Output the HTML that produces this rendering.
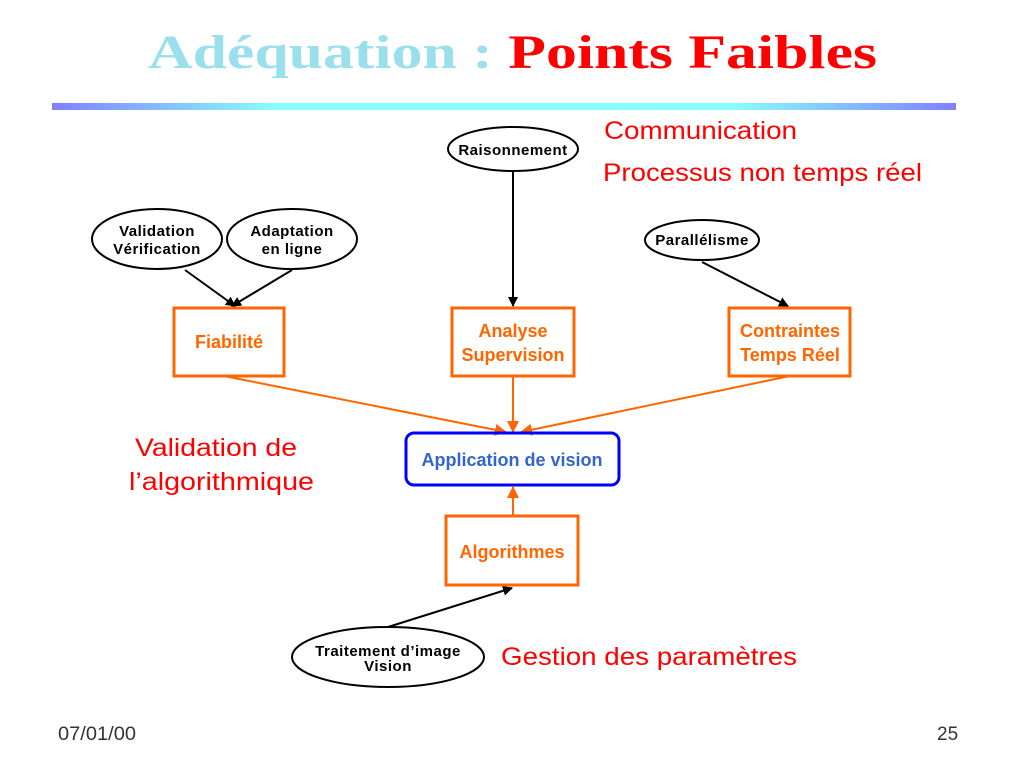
<!DOCTYPE html>
<html><head><meta charset="utf-8"><style>
body{margin:0;width:1024px;height:768px;background:#fff;overflow:hidden;position:relative;font-family:"Liberation Sans",sans-serif}
svg{position:absolute;left:0;top:0}
</style></head><body>
<svg width="1024" height="768" viewBox="0 0 1024 768">
<defs>
<linearGradient id="g" x1="0" x2="1">
<stop offset="0" stop-color="#8080ff"/><stop offset="0.25" stop-color="#88ffff"/><stop offset="0.75" stop-color="#88ffff"/><stop offset="1" stop-color="#8080ff"/>
</linearGradient>
<marker id="ab" markerWidth="10" markerHeight="10" refX="9" refY="5" orient="auto" markerUnits="userSpaceOnUse"><path d="M0,0 L10,5 L0,10 z" fill="#000"/></marker>
<marker id="ao" markerWidth="12" markerHeight="12" refX="11" refY="6" orient="auto" markerUnits="userSpaceOnUse"><path d="M0,0 L12,6 L0,12 z" fill="#ff6600"/></marker>
</defs>
<text x="148" y="68" font-family="Liberation Serif,serif" font-weight="bold" font-size="48" textLength="729" lengthAdjust="spacingAndGlyphs"><tspan fill="#99e0ec">Adéquation : </tspan><tspan fill="#ff0000">Points Faibles</tspan></text>
<rect x="52" y="103" width="904" height="7" fill="url(#g)"/>
<g fill="none" stroke="#000" stroke-width="2">
<ellipse cx="513" cy="149" rx="65" ry="22" fill="#fff"/>
<ellipse cx="157" cy="239" rx="65" ry="30" fill="#fff"/>
<ellipse cx="292" cy="239" rx="65" ry="30" fill="#fff"/>
<ellipse cx="702" cy="240" rx="57" ry="20" fill="#fff"/>
<ellipse cx="388" cy="657" rx="96" ry="30" fill="#fff"/>
<line x1="185" y1="270" x2="235" y2="306" marker-end="url(#ab)"/>
<line x1="292" y1="270" x2="232" y2="306" marker-end="url(#ab)"/>
<line x1="513" y1="172" x2="513" y2="306" marker-end="url(#ab)"/>
<line x1="702" y1="262" x2="788" y2="306" marker-end="url(#ab)"/>
<line x1="388" y1="627" x2="512" y2="588" marker-end="url(#ab)"/>
</g>
<g fill="none" stroke="#ff6600" stroke-width="3">
<rect x="174" y="308" width="110" height="68"/>
<rect x="452" y="308" width="122" height="68"/>
<rect x="729" y="308" width="121" height="68"/>
<rect x="446" y="516" width="132" height="69"/>
</g>
<g fill="none" stroke="#ff6600" stroke-width="2">
<line x1="224" y1="376" x2="506" y2="432" marker-end="url(#ao)"/>
<line x1="513" y1="376" x2="513" y2="432" marker-end="url(#ao)"/>
<line x1="790" y1="376" x2="521" y2="432" marker-end="url(#ao)"/>
<line x1="513" y1="516" x2="513" y2="487" marker-end="url(#ao)"/>
</g>
<rect x="406" y="433" width="213" height="52" rx="8" fill="none" stroke="#0000ff" stroke-width="3"/>
<g font-weight="bold" font-size="15" text-anchor="middle" fill="#000" letter-spacing="0.5">
<text x="513" y="155">Raisonnement</text>
<text x="157" y="236">Validation</text><text x="157" y="254">Vérification</text>
<text x="292" y="236">Adaptation</text><text x="292" y="254">en ligne</text>
<text x="702" y="245">Parallélisme</text>
<text x="388" y="656">Traitement d’image</text><text x="388" y="671">Vision</text>
</g>
<g font-weight="bold" font-size="18" text-anchor="middle" fill="#ff6600">
<text x="229" y="348">Fiabilité</text>
<text x="513" y="337">Analyse</text><text x="513" y="361">Supervision</text>
<text x="790" y="337">Contraintes</text><text x="790" y="361">Temps Réel</text>
<text x="512" y="558">Algorithmes</text>
</g>
<text x="512" y="466" text-anchor="middle" font-weight="bold" font-size="18" fill="#3366cc">Application de vision</text>
<g font-size="25" fill="#ff0000">
<text x="604" y="139" textLength="193" lengthAdjust="spacingAndGlyphs">Communication</text>
<text x="603" y="181" textLength="319" lengthAdjust="spacingAndGlyphs">Processus non temps réel</text>
<text x="135" y="456" textLength="162" lengthAdjust="spacingAndGlyphs">Validation de</text>
<text x="129" y="490" textLength="185" lengthAdjust="spacingAndGlyphs">l’algorithmique</text>
<text x="501" y="665" textLength="296" lengthAdjust="spacingAndGlyphs">Gestion des paramètres</text>
</g>
<g font-size="19" fill="#333">
<text x="58" y="740" textLength="78" lengthAdjust="spacingAndGlyphs">07/01/00</text>
<text x="937" y="740">25</text>
</g>
</svg>
</body></html>
